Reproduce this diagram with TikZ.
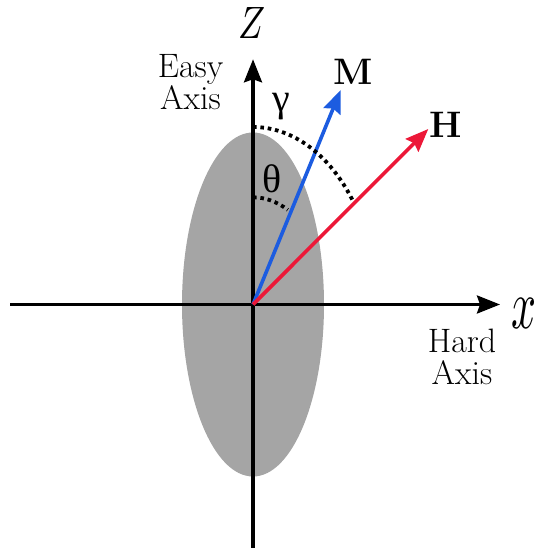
\documentclass[tikz,border=0pt]{standalone}
\usepackage{graphicx}
\usepackage{fontspec}
\newfontfamily\greekfont{Liberation Serif}
\usetikzlibrary{arrows.meta}
\definecolor{mblue}{RGB}{28,92,224}
\definecolor{hred}{RGB}{236,24,56}
\definecolor{egray}{RGB}{165,165,165}
\tikzset{
  axis/.style={line width=3.2bp, -{Stealth[length=23bp,width=18bp,inset=3bp]}},
  vec/.style={line width=3.6bp, -{Stealth[length=23bp,width=18bp,inset=3bp]}},
  dotarc/.style={line width=3.8bp, dash pattern=on 3.6bp off 3.8bp, line cap=butt},
  lbl/.style={inner sep=0pt, font=\fontsize{34}{32}\selectfont, align=center},
  bold/.style={inner sep=0pt, font=\fontsize{37}{38}\selectfont\bfseries},
  greek/.style={inner sep=0pt, font=\fontsize{40}{40}\selectfont\greekfont}
}
\begin{document}
\begin{tikzpicture}[x=1bp,y=1bp]
\useasboundingbox (0,0) rectangle (543,550);
% coordinates
\coordinate (O) at (253,245.5);
\coordinate (zb) at (253,2);
\coordinate (zt) at (253,490.7);
\coordinate (xl) at (10,245.5);
\coordinate (xr) at (500,245.5);
\coordinate (mt) at (340.7,460);
\coordinate (ht) at (428.3,421);
% ellipse
\fill[egray] (O) ellipse[x radius=71, y radius=172];
% axes
\draw[axis] (zb) -- (zt);
\draw[axis] (xl) -- (xr);
% vectors
\draw[vec, draw=mblue, fill=mblue] (O) -- (mt);
\draw[vec, draw=hred, fill=hred] (O) -- (ht);
% arcs
\draw[dotarc] (253,423) arc[start angle=90, end angle=36, x radius=123, y radius=177.5];
\draw[dotarc] (253,352.7) arc[start angle=90, end angle=62, x radius=74, y radius=107.2];
% labels
\node[inner sep=0pt] (zlab) at (251.7,526.7) {\resizebox{27bp}{31bp}{$Z$}};
\node[inner sep=0pt] (xlab) at (524,237) {\resizebox{25bp}{30bp}{$x$}};
\node[lbl] (easy) at (190.5,468) {Easy\\Axis};
\node[lbl] (hard) at (462,193.5) {Hard\\Axis};
\node[bold] (mlab) at (352.7,478.3) {M};
\node[bold] (hlab) at (446,425) {H};
\node[greek] (glab) at (281.7,443.3) {γ};
\node[greek] (tlab) at (271.7,371.7) {θ};
\end{tikzpicture}
\end{document}
